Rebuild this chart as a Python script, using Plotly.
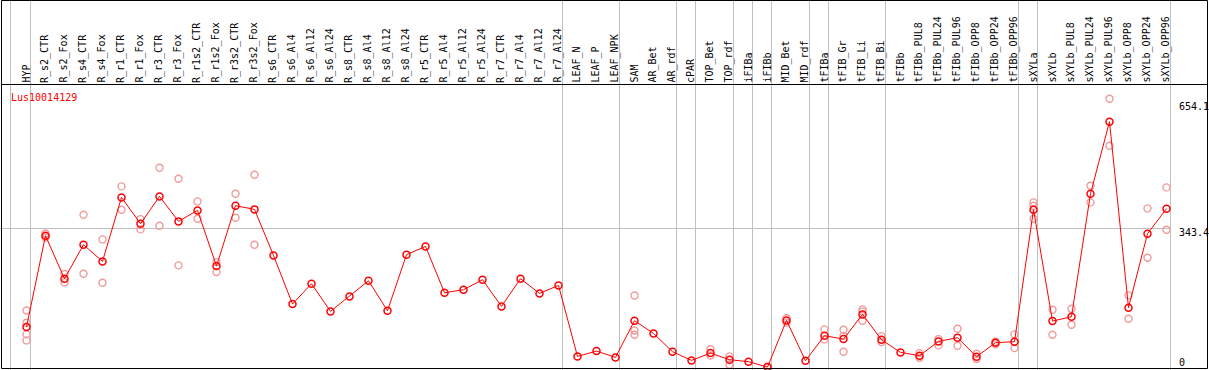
import plotly.graph_objects as go

# ---------------- data ----------------
gene = "Lus10014129"

categories = [
    "HYP", "R_s2_CTR", "R_s2_Fox", "R_s4_CTR", "R_s4_Fox", "R_r1_CTR", "R_r1_Fox",
    "R_r3_CTR", "R_r3_Fox", "R_r1s2_CTR", "R_r1s2_Fox", "R_r3s2_CTR", "R_r3s2_Fox",
    "R_s6_CTR", "R_s6_Al4", "R_s6_Al12", "R_s6_Al24", "R_s8_CTR", "R_s8_Al4",
    "R_s8_Al12", "R_s8_Al24", "R_r5_CTR", "R_r5_Al4", "R_r5_Al12", "R_r5_Al24",
    "R_r7_CTR", "R_r7_Al4", "R_r7_Al12", "R_r7_Al24", "LEAF_N", "LEAF_P", "LEAF_NPK",
    "SAM", "AR_Bet", "AR_rdf", "cPAR", "TOP_Bet", "TOP_rdf", "iFIBa", "iFIBb",
    "MID_Bet", "MID_rdf", "tFIBa", "tFIB_Gr", "tFIB_Li", "tFIB_Bi", "tFIBb",
    "tFIBb_PUL8", "tFIBb_PUL24", "tFIBb_PUL96", "tFIBb_OPP8", "tFIBb_OPP24",
    "tFIBb_OPP96", "sXYLa", "sXYLb", "sXYLb_PUL8", "sXYLb_PUL24", "sXYLb_PUL96",
    "sXYLb_OPP8", "sXYLb_OPP24", "sXYLb_OPP96",
]

means = [
    99.5, 325.6, 219.2, 303.3, 262.0, 420.3, 355.3, 422.8, 361.0, 388.2, 250.4,
    399.8, 390.7, 276.8, 156.4, 206.8, 138.3, 175.4, 214.2, 140.0, 278.6, 299.1,
    184.6, 192.0, 216.7, 150.7, 219.2, 182.8, 202.6, 27.0, 40.1, 24.5, 115.3,
    83.9, 38.6, 17.1, 35.1, 18.8, 13.9, 0.5, 116.0, 16.3, 78.2, 69.8, 130.9,
    68.3, 36.9, 28.7, 64.1, 73.2, 26.2, 60.9, 63.3, 389.9, 114.3, 125.2, 429.5,
    607.6, 147.5, 330.5, 392.4,
]

replicates = [
    [140.6, 110.3, 81.4, 66.5], [331.0, 321.0], [231.0, 210.0], [377.5, 231.6],
    [316.4, 209.3], [447.6, 389.9], [366.7, 341.2], [493.8, 350.3], [466.6, 252.1],
    [410.4, 367.6], [260.3, 235.5], [429.5, 370.1], [476.5, 303.3],
    [], [], [], [], [], [], [], [], [], [], [], [], [], [], [], [], [], [], [],
    [177.6, 91.0, 80.4], [], [], [], [44.5, 29.4], [27.0, 6.4], [], [1.5, 0.0],
    [121.5, 110.5], [], [93.8, 69.0], [93.0, 77.8, 38.6], [143.2, 138.3, 115.3],
    [77.2, 62.3], [], [35.1, 23.8], [69.8, 54.2], [95.5, 53.4], [33.6, 20.3],
    [63.3, 56.7], [81.4, 47.5], [408.0, 399.8, 367.6], [142.5, 80.7],
    [145.0, 105.4], [449.3, 408.0], [664.5, 548.2], [177.9, 120.2],
    [393.1, 271.2], [445.1, 340.4],
]

# last category index of each group (vertical separators)
group_ends = [0, 28, 31, 34, 35, 37, 38, 39, 41, 42, 45, 52, 53, 60]

y_tick_values = [654.1, 343.4, 0]
y_tick_labels = ["654.1", "343.4", "0"]

# ---------------- layout constants ----------------
W, H = 1209, 370
X_STEP = 19.0          # px per category
X0_PX = 26.5           # px of first category
K = 0.4042             # px per unit
ZERO_PX = 367.3        # px of value 0
FONT = "DejaVu Sans Mono"
GRID = "#c0c0c0"

x_range = [-X0_PX / X_STEP, (W - X0_PX) / X_STEP]
y_range = [(ZERO_PX - H) / K, ZERO_PX / K]

rep_x, rep_y = [], []
for i, reps in enumerate(replicates):
    for v in reps:
        rep_x.append(i)
        rep_y.append(v)

fig = go.Figure()
fig.add_trace(go.Scatter(
    x=rep_x, y=rep_y, mode="markers", hoverinfo="skip",
    marker=dict(symbol="circle-open", size=7, color="#f09a9a",
                line=dict(width=1.4, color="#f09a9a")),
))
fig.add_trace(go.Scatter(
    x=list(range(len(categories))), y=means, mode="lines+markers",
    line=dict(color="#ff0000", width=1),
    marker=dict(symbol="circle-open", size=7, color="#ff0000",
                line=dict(width=1.5, color="#ff0000")),
))

grid_x = [-16 / X_STEP] + [e + 4 / X_STEP for e in group_ends]

shapes = [
    # horizontal mid grid line
    dict(type="line", xref="x", yref="y", x0=x_range[0], x1=group_ends[-1] + 4 / X_STEP,
         y0=y_tick_values[1], y1=y_tick_values[1], line=dict(color=GRID, width=1),
         layer="below"),
    # outer border
    dict(type="rect", xref="paper", yref="paper", x0=1.5 / W, x1=1207.5 / W,
         y0=1 - 368.5 / H, y1=1 - 0.5 / H, line=dict(color="black", width=1)),
    # header separator
    dict(type="line", xref="paper", yref="paper", x0=1.5 / W, x1=1207.5 / W,
         y0=1 - 84.5 / H, y1=1 - 84.5 / H, line=dict(color="black", width=1)),
]

annotations = []
for i, c in enumerate(categories):
    annotations.append(dict(
        x=i, xref="x", y=1 - 84 / H, yref="paper", text=c, showarrow=False,
        textangle=-90, xanchor="center", yanchor="bottom", xshift=-1, borderpad=0,
        font=dict(family=FONT, size=10, color="black"),
    ))
annotations.append(dict(
    x=10 / W, xref="paper", y=1 - 97.5 / H, yref="paper", text=gene, showarrow=False,
    xanchor="left", yanchor="middle", borderpad=0,
    font=dict(family=FONT, size=10, color="#ff0000"),
))
label_shift = [-4, -4, 5]
for v, t, s in zip(y_tick_values, y_tick_labels, label_shift):
    annotations.append(dict(
        x=1178 / W, xref="paper", y=v, yref="y", text=t, showarrow=False,
        xanchor="left", yanchor="middle", yshift=s, borderpad=0,
        font=dict(family=FONT, size=10, color="black"),
    ))

fig.update_layout(
    width=W, height=H, margin=dict(l=0, r=0, t=0, b=0, pad=0),
    paper_bgcolor="white", plot_bgcolor="white", showlegend=False,
    shapes=shapes, annotations=annotations,
    xaxis=dict(range=x_range, tickvals=grid_x, showticklabels=False, ticks="",
               showgrid=True, gridcolor=GRID, gridwidth=1, zeroline=False,
               showline=False, fixedrange=True),
    yaxis=dict(range=y_range, showticklabels=False, ticks="", showgrid=False,
               zeroline=False, showline=False, fixedrange=True),
)

fig.write_html("out.html", config={"displayModeBar": False},
               post_script="document.body.style.margin='0';")
